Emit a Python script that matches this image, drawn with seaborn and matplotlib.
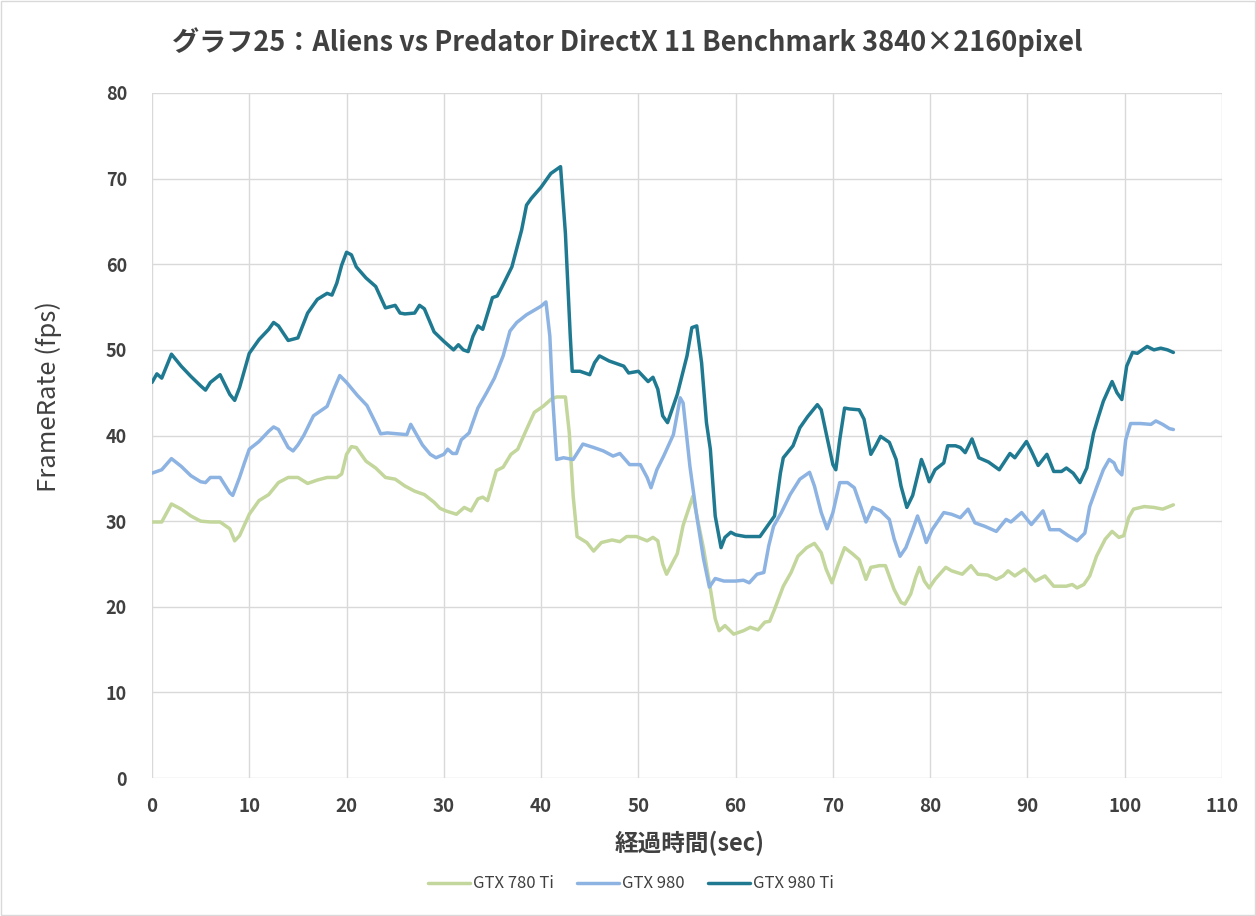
import matplotlib
matplotlib.use("Agg")
import matplotlib.pyplot as plt
import seaborn as sns
import pandas as pd
from matplotlib.patches import Rectangle

# readings (sec, fps) per card
t_780ti = [0, 1, 2, 3, 4, 5, 6, 7, 8, 8.5, 9, 10, 11, 12, 13, 14, 15, 16, 17, 18, 19, 19.5,
           20, 20.5, 21, 22, 23, 24, 25, 26, 27, 28, 29, 29.6, 30.2, 31.3, 32.1, 32.8, 33.5,
           34.0, 34.5, 35.4, 36.1, 36.9, 37.6, 38.5, 39.3, 40.2, 41.1, 41.6, 42.5, 42.9, 43.3,
           43.7, 44.7, 45.4, 46.2, 47.3, 48.1, 48.8, 49.8, 50.9, 51.5, 52.0, 52.5, 52.9, 54.0,
           54.6, 55.6, 56.7, 57.4, 57.9, 58.3, 58.9, 59.8, 60.8, 61.5, 62.3, 63.0, 63.5, 64.0,
           64.9, 65.7, 66.4, 67.3, 68.1, 68.8, 69.3, 69.9, 70.5, 71.2, 72.0, 72.7, 73.4, 73.9,
           74.8, 75.4, 76.3, 77.0, 77.4, 78.0, 78.5, 78.9, 79.4, 79.9, 80.5, 81.6, 82.2, 83.3,
           84.2, 84.9, 85.9, 86.8, 87.5, 88.0, 88.7, 89.7, 90.8, 91.8, 92.7, 94.0, 94.6, 95.1,
           95.8, 96.4, 97.1, 98.0, 98.7, 99.4, 99.9, 100.4, 100.9, 102.0, 103.0, 103.9, 105.0]
fps_780ti = [29.9, 29.9, 32.0, 31.4, 30.6, 30.0, 29.9, 29.9, 29.1, 27.7, 28.3, 30.8, 32.4, 33.1,
             34.5, 35.1, 35.1, 34.4, 34.8, 35.1, 35.1, 35.5, 37.8, 38.7, 38.6, 37.0, 36.2, 35.1,
             34.9, 34.1, 33.5, 33.1, 32.2, 31.5, 31.2, 30.8, 31.6, 31.2, 32.6, 32.8, 32.4, 35.9,
             36.3, 37.8, 38.4, 40.7, 42.7, 43.4, 44.3, 44.5, 44.5, 40.3, 32.9, 28.2, 27.5, 26.5,
             27.5, 27.8, 27.6, 28.2, 28.2, 27.7, 28.1, 27.7, 25.0, 23.8, 26.2, 29.5, 32.9, 26.8,
             22.1, 18.6, 17.2, 17.8, 16.8, 17.2, 17.6, 17.3, 18.2, 18.3, 19.7, 22.4, 24.0, 25.9,
             26.9, 27.4, 26.3, 24.4, 22.8, 24.8, 26.9, 26.2, 25.5, 23.2, 24.6, 24.8, 24.8, 22.0,
             20.5, 20.3, 21.5, 23.4, 24.6, 23.0, 22.2, 23.2, 24.6, 24.2, 23.8, 24.8, 23.8, 23.7,
             23.2, 23.6, 24.2, 23.6, 24.4, 23.0, 23.6, 22.4, 22.4, 22.6, 22.2, 22.6, 23.6, 25.9,
             27.9, 28.8, 28.1, 28.3, 30.4, 31.4, 31.7, 31.6, 31.4, 31.9]

t_980 = [0, 1, 2, 3, 4, 5, 5.5, 6, 7, 8, 8.3, 9, 9.5, 10, 11, 12, 12.5, 13, 14, 14.5, 15, 15.6,
         16.6, 17.5, 18.0, 18.7, 19.3, 20.0, 21.1, 22.1, 23.1, 23.5, 24.2, 25.2, 26.2, 26.6,
         27.8, 28.6, 29.2, 30.0, 30.4, 30.9, 31.3, 31.8, 32.6, 33.5, 34.4, 35.2, 36.1, 36.8,
         37.5, 38.5, 39.4, 40.0, 40.5, 40.9, 41.2, 41.6, 42.3, 43.3, 44.3, 45.4, 46.4, 47.4,
         48.1, 49.1, 50.2, 50.9, 51.3, 51.9, 52.6, 53.6, 54.3, 54.6, 55.3, 56.0, 56.7, 57.3,
         57.9, 58.8, 60.0, 60.8, 61.4, 62.2, 62.9, 63.4, 63.9, 64.7, 65.6, 66.6, 67.6, 68.1,
         68.8, 69.4, 70.0, 70.7, 71.5, 72.2, 72.9, 73.4, 74.1, 74.9, 75.8, 76.3, 76.9, 77.5,
         78.2, 78.7, 79.2, 79.6, 80.2, 81.4, 82.2, 83.1, 83.9, 84.6, 85.6, 86.8, 87.8, 88.3,
         89.4, 90.4, 91.6, 92.3, 93.3, 94.2, 95.1, 95.9, 96.4, 97.1, 97.8, 98.4, 98.9, 99.2,
         99.7, 100.1, 100.6, 101.6, 102.7, 103.2, 103.9, 104.6, 105.0]
fps_980 = [35.6, 36.0, 37.3, 36.4, 35.3, 34.6, 34.5, 35.1, 35.1, 33.3, 33.0, 35.1, 36.8, 38.4,
           39.3, 40.5, 41.0, 40.7, 38.6, 38.2, 38.9, 40.0, 42.3, 43.0, 43.4, 45.4, 47.0, 46.2,
           44.7, 43.5, 41.2, 40.2, 40.3, 40.2, 40.1, 41.3, 38.9, 37.8, 37.4, 37.8, 38.4, 37.9,
           37.9, 39.5, 40.3, 43.2, 45.0, 46.7, 49.3, 52.2, 53.2, 54.1, 54.7, 55.1, 55.6, 51.6,
           44.2, 37.2, 37.4, 37.2, 39.0, 38.6, 38.2, 37.6, 37.9, 36.6, 36.6, 35.1, 33.9, 36.0,
           37.6, 40.1, 44.4, 43.8, 36.4, 30.6, 25.6, 22.3, 23.3, 23.0, 23.0, 23.1, 22.8, 23.8,
           24.0, 27.1, 29.4, 31.0, 33.1, 34.9, 35.7, 34.1, 31.0, 29.1, 31.0, 34.5, 34.5, 33.9,
           31.6, 29.9, 31.6, 31.2, 30.2, 27.9, 25.9, 26.9, 29.0, 30.6, 29.0, 27.5, 29.0, 31.0,
           30.8, 30.4, 31.4, 29.8, 29.4, 28.8, 30.2, 29.9, 31.0, 29.6, 31.2, 29.0, 29.0, 28.3,
           27.7, 28.6, 31.7, 33.9, 36.0, 37.2, 36.8, 36.0, 35.4, 39.5, 41.4, 41.4, 41.3, 41.7,
           41.3, 40.8, 40.7]

t_980ti = [0, 0.5, 1, 2, 3, 4, 5, 5.5, 6, 7, 8, 8.5, 9, 10, 11, 12, 12.5, 13, 14, 15, 16, 17,
           18, 18.5, 19, 19.5, 20, 20.5, 21, 22, 23, 24, 25, 25.5, 26, 27, 27.5, 28, 29, 30,
           31, 31.5, 32, 32.5, 33, 33.5, 34, 35, 35.5, 36, 37, 38, 38.5, 39, 40, 41, 41.5, 42,
           42.5, 43, 43.2, 44, 45, 45.5, 46, 47, 48, 48.5, 49, 50, 51, 51.5, 52, 52.5, 53, 54,
           55, 55.5, 56, 56.5, 57, 57.4, 57.9, 58.5, 58.9, 59.5, 60, 61, 62, 62.5, 63, 64,
           64.6, 64.9, 65.9, 66.6, 67.4, 68.4, 68.8, 69.3, 70, 70.3, 70.7, 71.2, 71.7, 72.7,
           73.2, 73.9, 74.4, 74.9, 75.8, 76.5, 77.0, 77.6, 78.2, 78.7, 79.1, 79.5, 79.9, 80.5,
           81.4, 81.8, 82.6, 83.1, 83.6, 84.3, 85.0, 86.0, 87.1, 88.2, 88.7, 89.2, 89.9, 90.4,
           91.1, 92.0, 92.7, 93.5, 94.0, 94.7, 95.4, 96.1, 96.8, 97.3, 97.8, 98.7, 99.2, 99.7,
           100.2, 100.8, 101.3, 102.3, 103.0, 103.7, 104.4, 105.0]
fps_980ti = [46.2, 47.2, 46.7, 49.5, 48.1, 46.9, 45.8, 45.3, 46.2, 47.1, 44.8, 44.1, 45.6, 49.6,
             51.2, 52.4, 53.2, 52.8, 51.1, 51.4, 54.3, 55.9, 56.6, 56.4, 57.8, 59.9, 61.4, 61.1,
             59.7, 58.4, 57.4, 54.9, 55.2, 54.3, 54.2, 54.3, 55.2, 54.8, 52.1, 51.0, 50.0, 50.6,
             50.0, 49.8, 51.6, 52.8, 52.4, 56.1, 56.3, 57.4, 59.7, 64.0, 66.9, 67.7, 69.0, 70.6,
             71.0, 71.4, 63.6, 51.6, 47.5, 47.5, 47.1, 48.5, 49.3, 48.7, 48.3, 48.1, 47.3, 47.5,
             46.3, 46.8, 45.4, 42.3, 41.5, 44.8, 49.3, 52.6, 52.8, 48.5, 41.5, 38.4, 30.6, 26.9,
             28.1, 28.7, 28.4, 28.2, 28.2, 28.2, 29.0, 30.6, 35.6, 37.4, 38.8, 40.9, 42.2, 43.6,
             43.0, 40.3, 36.6, 36.0, 39.5, 43.2, 43.1, 43.0, 41.9, 37.8, 38.8, 39.9, 39.2, 37.2,
             34.1, 31.6, 33.0, 35.3, 37.2, 36.0, 34.6, 36.0, 36.8, 38.8, 38.8, 38.6, 38.0, 39.6,
             37.4, 36.9, 36.0, 37.9, 37.4, 38.2, 39.3, 38.2, 36.5, 37.8, 35.8, 35.8, 36.2, 35.6,
             34.5, 36.2, 40.3, 42.2, 44.0, 46.3, 45.0, 44.2, 48.1, 49.7, 49.6, 50.4, 50.0, 50.2,
             50.0, 49.7]

cards = ["GTX 780 Ti", "GTX 980", "GTX 980 Ti"]
colors = ["#C3D69B", "#8DB3E2", "#1F7A91"]

df = pd.concat([
    pd.DataFrame({"sec": t, "fps": v, "card": name})
    for t, v, name in [(t_780ti, fps_780ti, cards[0]),
                       (t_980, fps_980, cards[1]),
                       (t_980ti, fps_980ti, cards[2])]
], ignore_index=True)

sns.set_theme(style="whitegrid")
plt.rcParams["font.family"] = ["Noto Sans CJK JP", "DejaVu Sans"]
text_col = "#404040"

fig = plt.figure(figsize=(12.56, 9.16), dpi=100)
ax = fig.add_axes([152 / 1256, 1 - 778 / 916, 1070 / 1256, 685 / 916])

sns.lineplot(data=df, x="sec", y="fps", hue="card", hue_order=cards,
             palette=dict(zip(cards, colors)), sort=False, estimator=None,
             linewidth=2.5, ax=ax)
for ln in ax.lines:
    ln.set_solid_joinstyle("round")
    ln.set_solid_capstyle("round")

ax.set_xlim(0, 110)
ax.set_ylim(0, 80)
ax.set_xticks(range(0, 111, 10))
ax.set_yticks(range(0, 81, 10))
ax.grid(True, color="#D9D9D9", linewidth=1)
ax.set_facecolor("white")
for s in ax.spines.values():
    s.set_visible(False)
ax.tick_params(axis="x", length=0, labelsize=13.5, labelcolor=text_col, pad=14)
ax.tick_params(axis="y", length=0, labelsize=13, labelcolor=text_col, pad=18)
for lab in ax.get_xticklabels() + ax.get_yticklabels():
    lab.set_fontweight("bold")

ax.set_xlabel("経過時間(sec)", fontsize=17, fontweight="bold", color=text_col)
ax.xaxis.set_label_coords(0.502, (778 - 831) / 685)
ax.set_ylabel("FrameRate (fps)", fontsize=18.5, color=text_col)
ax.yaxis.set_label_coords((62 - 152) / 1070, (778 - 396) / 685)

fig.text(627 / 1256, 1 - 42 / 916,
         "グラフ25：Aliens vs Predator DirectX 11 Benchmark 3840×2160pixel",
         ha="center", va="center", fontsize=19.5, fontweight="bold", color=text_col)

ax.legend(loc="center", bbox_to_anchor=(631 / 1256, 1 - 884 / 916),
          bbox_transform=fig.transFigure, ncol=3, frameon=False, fontsize=12,
          handlelength=2.5, handletextpad=0.2, columnspacing=1.4,
          labelcolor=text_col)

fig.patches.append(Rectangle((0.001, 0.001), 0.998, 0.998, transform=fig.transFigure,
                             fill=False, edgecolor="#D9D9D9", linewidth=1))

fig.savefig("out.png", dpi=100, facecolor="white")
plt.close(fig)
